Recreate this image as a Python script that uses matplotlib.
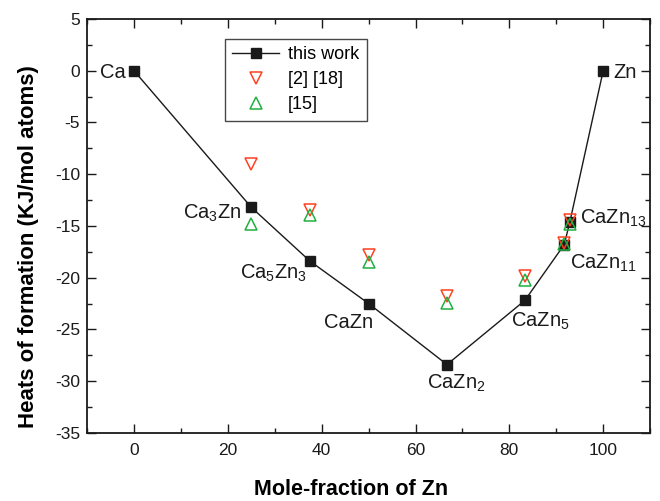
import matplotlib
matplotlib.use("Agg")
import matplotlib.pyplot as plt
from matplotlib.ticker import MultipleLocator

plt.rcParams['font.family'] = ['Liberation Sans', 'DejaVu Sans']
plt.rcParams['mathtext.default'] = 'regular'
plt.rcParams['axes.unicode_minus'] = False

# data
x_work = [0, 25, 37.5, 50, 66.7, 83.3, 91.7, 92.9, 100]
y_work = [0, -13.2, -18.4, -22.5, -28.4, -22.2, -16.8, -14.6, 0]
names = ['Ca', 'Ca$_3$Zn', 'Ca$_5$Zn$_3$', 'CaZn', 'CaZn$_2$', 'CaZn$_5$',
         'CaZn$_{11}$', 'CaZn$_{13}$', 'Zn']

x_ref = [25, 37.5, 50, 66.7, 83.3, 91.7, 92.9]
y_ref_2_18 = [-9.0, -13.5, -17.8, -21.8, -19.8, -16.6, -14.4]
y_ref_15 = [-14.8, -13.9, -18.5, -22.4, -20.2, -16.7, -14.8]

fig = plt.figure(figsize=(6.6, 5.01), dpi=100)
ax = fig.add_axes([0.132, 0.136, 0.853, 0.826])

ax.plot(x_work, y_work, color='#1a1a1a', lw=1.0, marker='s', ms=7,
        mfc='#1a1a1a', mec='#1a1a1a', label='this work', zorder=3)
ax.plot(x_ref, y_ref_2_18, ls='none', marker='v', ms=8, mfc='none',
        mec='#ff4020', mew=1.1, label='[2] [18]', zorder=4)
ax.plot(x_ref, y_ref_15, ls='none', marker='^', ms=8, mfc='none',
        mec='#20b040', mew=1.1, label='[15]', zorder=4)

# label offsets (pixels) and alignments
offs = [(-8, -2, 'right'), (-10, -6, 'right'), (-36, -12, 'center'),
        (-20, -19, 'center'), (9, -19, 'center'), (15, -21, 'center'),
        (6, -19, 'left'), (10, 3, 'left'), (10, -2, 'left')]
for xv, yv, n, (dx, dy, ha) in zip(x_work, y_work, names, offs):
    ax.annotate(n, xy=(xv, yv), xytext=(dx, dy), textcoords='offset pixels',
                ha=ha, va='center', fontsize=14.5, color='#1a1a1a')

ax.set_xlim(-10, 110)
ax.set_ylim(-35, 5)
ax.xaxis.set_major_locator(MultipleLocator(20))
ax.xaxis.set_minor_locator(MultipleLocator(10))
ax.yaxis.set_major_locator(MultipleLocator(5))
ax.yaxis.set_minor_locator(MultipleLocator(2.5))
ax.tick_params(which='both', direction='in', top=True, right=True,
               labelsize=12.5, colors='#1a1a1a', width=1.0)
ax.tick_params(which='major', length=6.5)
ax.tick_params(which='minor', length=3.5)
for s in ax.spines.values():
    s.set_linewidth(1.3)
    s.set_color('#1a1a1a')
ax.tick_params(axis='x', pad=7)
ax.tick_params(axis='y', pad=5)

ax.set_xlabel('Mole-fraction of Zn', fontsize=15.5, fontweight='bold', va='center')
ax.set_ylabel('Heats of formation (KJ/mol atoms)', fontsize=16, fontweight='bold', va='center')
ax.xaxis.set_label_coords(0.469, -0.138)
ax.yaxis.set_label_coords(-0.105, 0.45)

leg = ax.legend(loc='upper left', bbox_to_anchor=(0.245, 0.952), fontsize=13,
                frameon=True, fancybox=False, edgecolor='#1a1a1a',
                borderpad=0.4, handlelength=2.6, labelspacing=0.45,
                handletextpad=0.5, borderaxespad=0)
leg.get_frame().set_linewidth(1.0)

fig.savefig('out.png', dpi=100)
